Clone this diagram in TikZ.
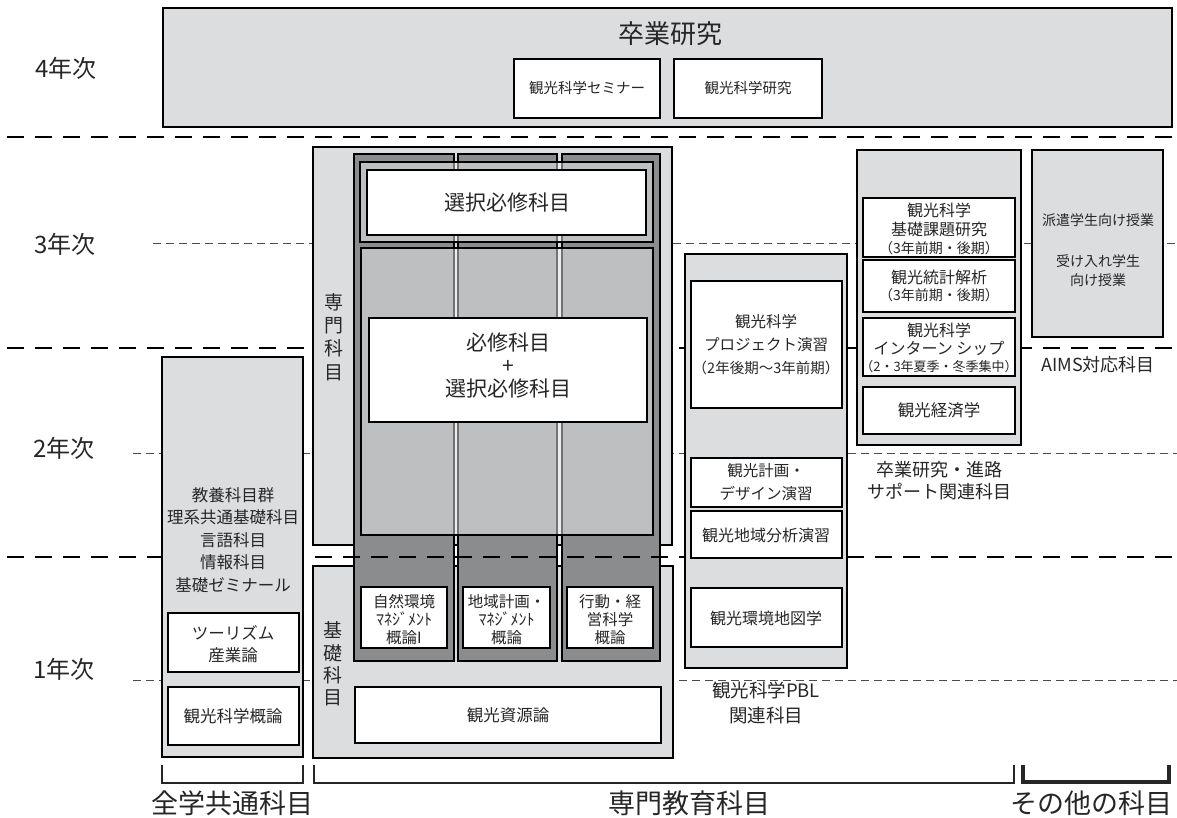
\documentclass[tikz,border=0pt]{standalone}
\usepackage{fontspec}
\setmainfont{Noto Sans CJK JP}
\definecolor{lg}{HTML}{DCDDDF}
\definecolor{dg}{HTML}{8A8C8E}
\tikzset{
 greybox/.style={draw=black, fill=lg, line width=2.5pt, inner sep=0pt, outer sep=0pt},
 whitebox/.style={draw=black, fill=white, line width=1.2pt, inner sep=0pt, outer sep=0pt},
 colbox/.style={draw=black, fill=dg, line width=2pt, inner sep=0pt, outer sep=0pt},
 glassbox/.style={draw=black, fill=white, fill opacity=0.45, draw opacity=1, line width=2.5pt, inner sep=0pt, outer sep=0pt},
 bigdash/.style={line width=2.5pt, dash pattern=on 17pt off 11pt},
 thindash/.style={line width=0.9pt, draw=black!70, dash pattern=on 8pt off 5pt},
 txt/.style={align=center, inner sep=0pt, text=black!85},
 brk/.style={line width=1.2pt, draw=black!85},
}
\newcommand{\fs}[2]{\fontsize{#1}{#2}\selectfont}
\newcommand{\rbox}[6]{\node[#1, anchor=north west, minimum width={(#5)-(#3)}, minimum height={(#6)-(#4)}] (#2) at (#3,#4) {};}
\begin{document}
\begin{tikzpicture}[x=1pt,y=-1pt]
\path[use as bounding box] (0,0) rectangle (1177,817);
% ---- thin dashed year lines
\coordinate (t3a) at (153,243); \coordinate (t3b) at (1177,243);
\coordinate (t2a) at (133,453); \coordinate (t2b) at (1177,453);
\coordinate (t1a) at (133,680); \coordinate (t1b) at (1177,680);
\draw[thindash] (t3a) -- (t3b);
\draw[thindash] (t2a) -- (t2b);
\draw[thindash] (t1a) -- (t1b);
% ---- thick dashed separators
\coordinate (d4a) at (7,137); \coordinate (d4b) at (1177,137);
\coordinate (d3a) at (7,348); \coordinate (d3b) at (1177,348);
\coordinate (d2a) at (7,557); \coordinate (d2b) at (1177,557);
\draw[bigdash] (d4a) -- (d4b);
\draw[bigdash] (d3a) -- (d3b);
\draw[bigdash] (d2a) -- (d2b);
% ---- year labels
\node[txt, font=\fs{24}{28}] (y4) at (66,68) {4年次};
\node[txt, font=\fs{24}{28}] (y3) at (65,244) {3年次};
\node[txt, font=\fs{24}{28}] (y2) at (64,448) {2年次};
\node[txt, font=\fs{24}{28}] (y1) at (64,669) {1年次};
% ---- 4th year
\rbox{greybox}{sotsu}{163}{8}{1172}{127}
\node[txt, font=\fs{26}{30}] (sotsut) at (670,34) {卒業研究};
\rbox{whitebox}{semi}{514}{59}{660}{118}
\node[txt, font=\fs{14.5}{18}] (semit) at (587,88) {観光科学セミナー};
\rbox{whitebox}{kenk}{674}{59}{822}{118}
\node[txt, font=\fs{14.5}{18}] (kenkt) at (748,88) {観光科学研究};
% ---- common subjects
\rbox{greybox}{zen}{162}{357}{303}{757}
\node[txt, font=\fs{16.5}{22.5}] (zent) at (233,540) {教養科目群\\理系共通基礎科目\\言語科目\\情報科目\\基礎ゼミナール};
\rbox{whitebox}{tour}{168}{613}{299}{672}
\node[txt, font=\fs{16.5}{22}] (tourt) at (233,644) {ツーリズム\\産業論};
\rbox{whitebox}{gairon}{168}{687}{299}{745}
\node[txt, font=\fs{16.5}{20}] (gaighront) at (233,716) {観光科学概論};
% ---- specialised subjects
\rbox{greybox}{senmon}{313}{147}{672}{545}
\rbox{greybox}{kiso}{313}{566}{673}{758}
\node[txt, font=\fs{19}{23.3}] (senmont) at (334,337) {専\\門\\科\\目};
\node[txt, font=\fs{19}{22.3}] (kisot) at (333,664) {基\\礎\\科\\目};
\rbox{colbox}{c1}{354}{154}{454}{661}
\rbox{colbox}{c2}{458}{154}{557}{661}
\rbox{colbox}{c3}{562}{154}{660}{661}
\begin{scope}
\clip (354,545) rectangle (661,566);
\draw[bigdash] (d2a) -- (d2b);
\end{scope}
\rbox{glassbox}{f1}{360}{162}{653}{242}
\rbox{whitebox}{sen1}{367}{170}{646}{235}
\node[txt, font=\fs{21}{25}] (sen1t) at (507,203) {選択必修科目};
\rbox{glassbox}{f2}{361}{248}{653}{535}
\rbox{whitebox}{hiss}{369}{318}{647}{422}
\node[txt, font=\fs{21}{23}] (hisst) at (508,366) {必修科目\\+\\選択必修科目};
\rbox{whitebox}{s1}{361}{587}{447}{648}
\node[txt, font=\fs{15.5}{18}] (s1t) at (404,620) {自然環境\\{\fs{16}{18}ﾏﾈｼﾞﾒﾝﾄ}\\概論I};
\rbox{whitebox}{s2}{463}{587}{550}{648}
\node[txt, font=\fs{15.5}{18}] (s2t) at (506.5,620) {地域計画・\\{\fs{16}{18}ﾏﾈｼﾞﾒﾝﾄ}\\概論};
\rbox{whitebox}{s3}{567}{587}{653}{648}
\node[txt, font=\fs{15.5}{18}] (s3t) at (610,620) {行動・経\\営科学\\概論};
\rbox{whitebox}{shigen}{355}{687}{661}{743}
\node[txt, font=\fs{16.5}{20}] (shigent) at (508,715) {観光資源論};
% ---- PBL
\rbox{greybox}{pbl}{685}{254}{847}{668}
\rbox{whitebox}{p1}{691}{281}{842}{408}
\node[txt, font=\fs{15.5}{23}] (p1t) at (766,345) {観光科学\\プロジェクト演習\\{\fs{14.5}{23}（2年後期～3年前期）}};
\rbox{whitebox}{p2}{691}{458}{842}{507}
\node[txt, font=\fs{15.5}{23}] (p2t) at (766,482) {観光計画・\\デザイン演習};
\rbox{whitebox}{p3}{691}{511}{842}{558}
\node[txt, font=\fs{16}{20}] (p3t) at (766,535) {観光地域分析演習};
\rbox{whitebox}{p4}{691}{588}{842}{647}
\node[txt, font=\fs{16}{20}] (p4t) at (766,618) {観光環境地図学};
\node[txt, font=\fs{18.5}{25}] (pbll) at (766,703) {観光科学PBL\\関連科目};
% ---- graduation support
\rbox{greybox}{sup}{857}{150}{1021}{445}
\rbox{whitebox}{r1}{863}{198}{1015}{257}
\node[txt, font=\fs{16}{18.5}] (r1t) at (939,229) {観光科学\\基礎課題研究\\{\fs{14}{18.5}（3年前期・後期）}};
\rbox{whitebox}{r2}{863}{260}{1015}{312}
\node[txt, font=\fs{16}{17.5}] (r2t) at (939,286) {観光統計解析\\{\fs{14}{17.5}（3年前期・後期）}};
\rbox{whitebox}{r3}{863}{318}{1015}{376}
\node[txt, font=\fs{16}{17.5}] (r3t) at (939,348) {観光科学\\インターン シップ\\{\fs{13}{17.5}（2・3年夏季・冬季集中）}};
\rbox{whitebox}{r4}{863}{387}{1015}{434}
\node[txt, font=\fs{16.5}{20}] (r4t) at (939,410) {観光経済学};
\node[txt, font=\fs{18}{22}] (supl) at (939,481) {卒業研究・進路\\サポート関連科目};
% ---- AIMS
\rbox{greybox}{aims}{1032}{150}{1163}{337}
\node[txt, font=\fs{14}{18}] (aims1) at (1098,220) {派遣学生向け授業};
\node[txt, font=\fs{14}{19}] (aims2) at (1098,271) {受け入れ学生\\向け授業};
\node[txt, font=\fs{18}{22}] (aimsl) at (1098,365) {AIMS対応科目};
% ---- brackets and category labels
\coordinate (b1a) at (162,765); \coordinate (b1b) at (162,783); \coordinate (b1c) at (303,783); \coordinate (b1d) at (303,765);
\draw[brk] (b1a) -- (b1b) -- (b1c) -- (b1d);
\coordinate (b2a) at (314,765); \coordinate (b2b) at (314,783); \coordinate (b2c) at (1014,783); \coordinate (b2d) at (1014,765);
\draw[brk] (b2a) -- (b2b) -- (b2c) -- (b2d);
\coordinate (b3a) at (1023,765); \coordinate (b3b) at (1023,782); \coordinate (b3c) at (1169,782); \coordinate (b3d) at (1169,765);
\draw[brk, line width=4pt] (b3a) -- (b3b) -- (b3c) -- (b3d);
\node[txt, font=\fs{27}{30}] (cat1) at (232,803) {全学共通科目};
\node[txt, font=\fs{27}{30}] (cat2) at (689,803) {専門教育科目};
\node[txt, font=\fs{27}{30}] (cat3) at (1091,803) {その他の科目};
\end{tikzpicture}
\end{document}
